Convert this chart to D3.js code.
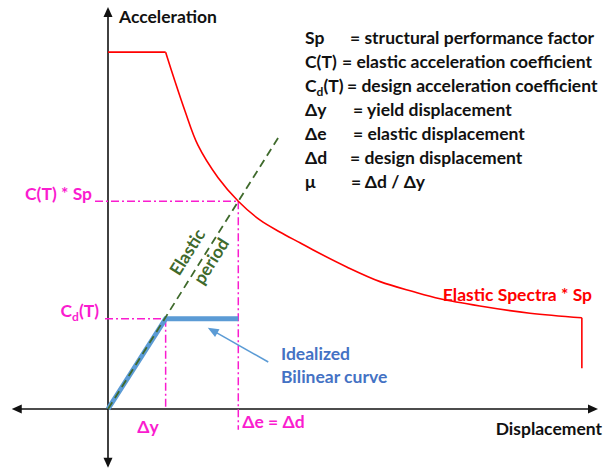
<!DOCTYPE html>
<html>
<head>
<meta charset="utf-8">
<script src="https://cdn.jsdelivr.net/npm/d3@7"></script>
<style>
  html, body { margin: 0; padding: 0; background: #fff; }
  svg { display: block; }
  text { font-family: Lato, "Open Sans", sans-serif; font-weight: bold; }
</style>
</head>
<body>
<svg id="chart" width="606" height="470"></svg>
<script>
  // elastic spectrum (x Sp), displacement vs acceleration
  const spectrumX = [0, 1.0, 1.16, 1.34, 1.56, 1.91, 2.26, 2.64, 2.98, 3.33, 3.56, 4.15, 4.72, 5.29, 5.76, 6.45, 7.32, 8.22, 8.22];
  const spectrumY = [3.95, 3.95, 3.63, 3.29, 2.92, 2.56, 2.3, 2.09, 1.96, 1.84, 1.76, 1.57, 1.41, 1.3, 1.22, 1.14, 1.06, 1.01, 0.45];

  // idealized bilinear curve
  const bilinearX = [0, 1.0, 2.26];
  const bilinearY = [0, 1.0, 1.0];

  // elastic period line
  const periodX = [0, 2.95];
  const periodY = [0, 3.0];

  const deltaY = 1.0, deltaE = 2.26;
  const cdT = 1.0, cTSp = 2.3;

  const legendSymbols = ["Sp", "C(T)", "Cd(T)", "\u0394y", "\u0394e", "\u0394d", "\u03bc"];
  const legendTexts = [
    "= structural performance factor",
    "= elastic acceleration coefficient",
    "= design acceleration coefficient",
    "= yield displacement",
    "= elastic displacement",
    "= design displacement",
    "= \u0394d / \u0394y"
  ];

  const width = 606, height = 470;
  const svg = d3.select("#chart");

  const x = d3.scaleLinear().domain([0, 8.5]).range([108, 598]);
  const y = d3.scaleLinear().domain([0, 4.45]).range([409, 7]);

  const magenta = "#fa1ccf";
  const red = "#ff0000";
  const blue = "#5b9bd5";
  const green = "#3f6a2c";

  // axes with arrow heads
  const axes = svg.append("g");
  axes.append("line")
    .attr("x1", x(-1.67) + 6).attr("x2", x(8.5) - 6)
    .attr("y1", y(0)).attr("y2", y(0))
    .attr("stroke", "#111").attr("stroke-width", 1.6);
  axes.append("line")
    .attr("x1", x(0)).attr("x2", x(0))
    .attr("y1", y(-0.65) - 6).attr("y2", y(4.45) + 6)
    .attr("stroke", "#111").attr("stroke-width", 1.6);

  function arrow(px, py, dir) {
    const L = 10, W = 4.5;
    let pts;
    if (dir === "right") pts = [[px, py], [px - L, py - W], [px - L, py + W]];
    if (dir === "left") pts = [[px, py], [px + L, py - W], [px + L, py + W]];
    if (dir === "up") pts = [[px, py], [px - W, py + L], [px + W, py + L]];
    if (dir === "down") pts = [[px, py], [px - W, py - L], [px + W, py - L]];
    axes.append("path").attr("d", "M" + pts.join("L") + "Z").attr("fill", "#111");
  }
  arrow(x(8.5), y(0), "right");
  arrow(x(-1.67), y(0), "left");
  arrow(x(0), y(4.45), "up");
  arrow(x(0), y(-0.65), "down");

  // magenta guide lines
  const dashDot = "8,3,2,3";
  const guides = svg.append("g")
    .attr("stroke", magenta).attr("stroke-width", 1.5)
    .attr("stroke-dasharray", dashDot).attr("fill", "none");
  guides.append("line")
    .attr("x1", 95).attr("x2", x(deltaE)).attr("y1", y(cTSp)).attr("y2", y(cTSp));
  guides.append("line")
    .attr("x1", x(deltaE)).attr("x2", x(deltaE)).attr("y1", y(cTSp)).attr("y2", y(-0.23));
  guides.append("line")
    .attr("x1", 105).attr("x2", x(deltaY)).attr("y1", y(cdT)).attr("y2", y(cdT));
  guides.append("line")
    .attr("x1", x(deltaY)).attr("x2", x(deltaY)).attr("y1", y(cdT)).attr("y2", y(0));

  // bilinear curve
  const bilinear = d3.zip(bilinearX, bilinearY);
  svg.append("path")
    .datum(bilinear)
    .attr("d", d3.line().x(d => x(d[0])).y(d => y(d[1])))
    .attr("fill", "none").attr("stroke", blue).attr("stroke-width", 5);

  // elastic period line
  svg.append("line")
    .attr("x1", x(periodX[0])).attr("y1", y(periodY[0]))
    .attr("x2", x(periodX[1])).attr("y2", y(periodY[1]))
    .attr("stroke", green).attr("stroke-width", 1.8).attr("stroke-dasharray", "8,5");

  // spectrum: plateau, descending branch, end drop
  const spectrum = d3.zip(spectrumX, spectrumY);
  const n = spectrum.length;
  const straight = d3.line().x(d => x(d[0])).y(d => y(d[1]));
  const smooth = d3.line().x(d => x(d[0])).y(d => y(d[1])).curve(d3.curveCatmullRom.alpha(0.5));
  const spec = svg.append("g").attr("fill", "none").attr("stroke", red).attr("stroke-width", 1.6);
  spec.append("path").attr("d", straight(spectrum.slice(0, 2)));
  spec.append("path").attr("d", smooth(spectrum.slice(1, n - 1)));
  spec.append("path").attr("d", straight(spectrum.slice(n - 2)));

  // blue pointer
  const tipX = 1.73, tipY = 0.9, tailX = 2.78, tailY = 0.52;
  const ang = Math.atan2(y(tipY) - y(tailY), x(tipX) - x(tailX));
  svg.append("line")
    .attr("x1", x(tailX)).attr("y1", y(tailY))
    .attr("x2", x(tipX) - 8 * Math.cos(ang)).attr("y2", y(tipY) - 8 * Math.sin(ang))
    .attr("stroke", blue).attr("stroke-width", 1.5);
  {
    const tx = x(tipX), ty = y(tipY), L = 11, W = 4.5;
    const bx = tx - L * Math.cos(ang), by = ty - L * Math.sin(ang);
    const nx = -Math.sin(ang) * W, ny = Math.cos(ang) * W;
    svg.append("path")
      .attr("d", `M${tx},${ty}L${bx + nx},${by + ny}L${bx - nx},${by - ny}Z`)
      .attr("fill", blue);
  }

  // texts
  const fs = 17.5;
  svg.append("text").attr("x", 119).attr("y", 23).attr("font-size", fs).attr("fill", "#111").text("Acceleration");
  svg.append("text").attr("x", 602).attr("y", 435).attr("text-anchor", "end").attr("font-size", fs).attr("fill", "#111").text("Displacement");
  svg.append("text").attr("x", 592).attr("y", 301).attr("text-anchor", "end").attr("font-size", fs).attr("fill", red).text("Elastic Spectra * Sp");
  svg.append("text").attr("x", 281).attr("y", 360).attr("font-size", fs).attr("fill", "#4472c4").text("Idealized");
  svg.append("text").attr("x", 281).attr("y", 383).attr("font-size", fs).attr("fill", "#4472c4").text("Bilinear curve");

  svg.append("text").attr("x", 92).attr("y", y(cTSp) - 1).attr("text-anchor", "end")
    .attr("font-size", fs).attr("fill", magenta).text("C(T) * Sp");
  const cdLabel = svg.append("text").attr("x", 99).attr("y", y(cdT) - 2).attr("text-anchor", "end")
    .attr("font-size", fs).attr("fill", magenta);
  cdLabel.append("tspan").text("C");
  cdLabel.append("tspan").attr("font-size", 12).attr("dy", 4).text("d");
  cdLabel.append("tspan").attr("dy", -4).text("(T)");

  svg.append("text").attr("x", x(deltaY) - 7).attr("y", 433).attr("text-anchor", "end")
    .attr("font-size", fs).attr("fill", magenta).text("\u0394y");
  svg.append("text").attr("x", x(deltaE) + 4).attr("y", 428)
    .attr("font-size", fs).attr("fill", magenta).text("\u0394e = \u0394d");

  // elastic period label, rotated along the line
  const angle = Math.atan2(y(periodY[1]) - y(0), x(periodX[1]) - x(0)) * 180 / Math.PI;
  const anchor = [x(1.55), y(1.55 * periodY[1] / periodX[1])];
  const rot = svg.append("g").attr("transform", `translate(${anchor[0]},${anchor[1]}) rotate(${angle})`);
  rot.append("text").attr("x", 7).attr("y", -10).attr("text-anchor", "middle")
    .attr("font-size", fs).attr("fill", green).text("Elastic");
  rot.append("text").attr("x", 12).attr("y", 15).attr("text-anchor", "middle")
    .attr("font-size", fs).attr("fill", green).text("period");

  // legend
  const eqX = [350, 342, 347, 353, 353, 350, 351];
  const legend = svg.append("g").attr("font-size", fs).attr("fill", "#111");
  legendSymbols.forEach((s, i) => {
    const ty = 44 + i * 24;
    const t = legend.append("text").attr("x", 305).attr("y", ty);
    if (s === "Cd(T)") {
      t.append("tspan").text("C");
      t.append("tspan").attr("font-size", 12).attr("dy", 4).text("d");
      t.append("tspan").attr("dy", -4).text("(T)");
    } else {
      t.text(s);
    }
    legend.append("text").attr("x", eqX[i]).attr("y", ty).text(legendTexts[i]);
  });
</script>
</body>
</html>
